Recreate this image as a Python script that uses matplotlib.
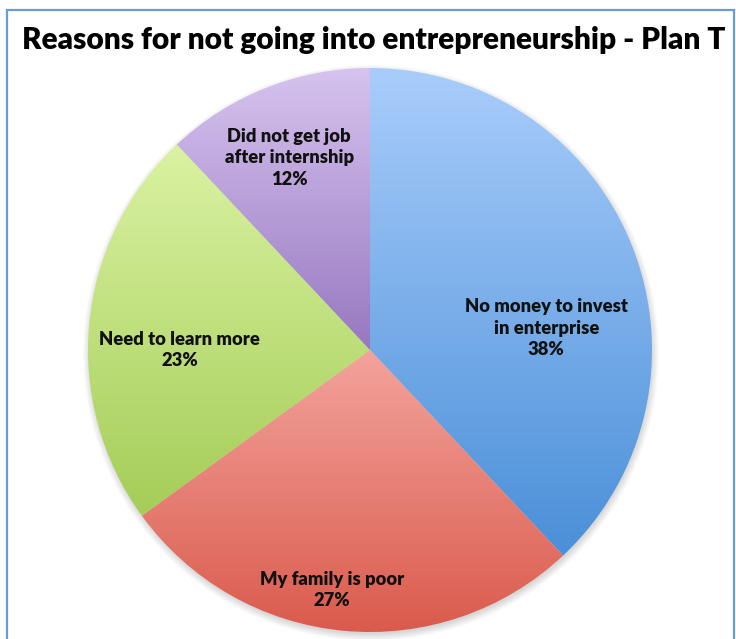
import matplotlib.pyplot as plt
import matplotlib.colors as mcolors
from matplotlib.patches import Circle, Rectangle
import numpy as np

plt.rcParams["font.family"] = ["Lato", "DejaVu Sans"]

title = "Reasons for not going into entrepreneurship - Plan T"
reasons = [
    "No money to invest\nin enterprise",
    "My family is poor",
    "Need to learn more",
    "Did not get job\nafter internship",
]
shares = [38, 27, 23, 12]
# light (top) and dark (bottom) end of each slice's fill
top_colors = ["#a9cdfb", "#f3a39c", "#daf2a2", "#d6c3ef"]
bottom_colors = ["#4a8fd8", "#da5a4c", "#a5cd58", "#9778c0"]
# where each label sits, in pie-radius units from the centre
label_offsets = [(0.625, 0.078), (-0.135, -0.851), (-0.674, 0.0), (-0.287, 0.681)]

W, H = 736, 639
fig = plt.figure(figsize=(W / 100, H / 100), dpi=100)
ax = fig.add_axes([0, 0, 1, 1])

cx, cy, radius = 370, H - 350, 282

# soft drop shadow under the pie
for k in range(10):
    ax.add_patch(Circle((cx + 1, cy - 3), radius + 6 - k * 0.8, facecolor="#000000",
                        alpha=0.016, edgecolor="none", zorder=1))

wedges, _ = ax.pie(shares, startangle=90, counterclock=False, center=(cx, cy),
                   radius=radius, wedgeprops=dict(linewidth=0, zorder=2))

for wedge, c_top, c_bot in zip(wedges, top_colors, bottom_colors):
    verts = wedge.get_path().vertices
    y0, y1 = verts[:, 1].min(), verts[:, 1].max()
    x0, x1 = verts[:, 0].min(), verts[:, 0].max()
    cmap = mcolors.LinearSegmentedColormap.from_list("g", [c_bot, c_top])
    grad = np.linspace(0, 1, 256).reshape(-1, 1)
    img = ax.imshow(grad, cmap=cmap, origin="lower", aspect="auto",
                    extent=[x0, x1, y0, y1], zorder=3, interpolation="bilinear")
    img.set_clip_path(wedge)
    wedge.set_facecolor("none")

for text, pct, (dx, dy) in zip(reasons, shares, label_offsets):
    ax.text(cx + dx * radius, cy + dy * radius, f"{text}\n{pct}%", ha="center",
            va="center", fontsize=13.2, fontweight="heavy", color="#111111",
            linespacing=1.32, zorder=5)

ax.text(374, H - 40, title, ha="center", va="center", fontsize=21.5,
        fontweight="heavy", color="#000000", zorder=5)

# chart frame
ax.add_patch(Rectangle((7, -20), 727, H - 10 + 20, facecolor="none",
                       edgecolor="#6a9ad8", linewidth=1.6, zorder=6))

ax.set_xlim(0, W)
ax.set_ylim(0, H)
ax.set_aspect("auto")
ax.axis("off")

fig.savefig("out.png", dpi=100, facecolor="white")
